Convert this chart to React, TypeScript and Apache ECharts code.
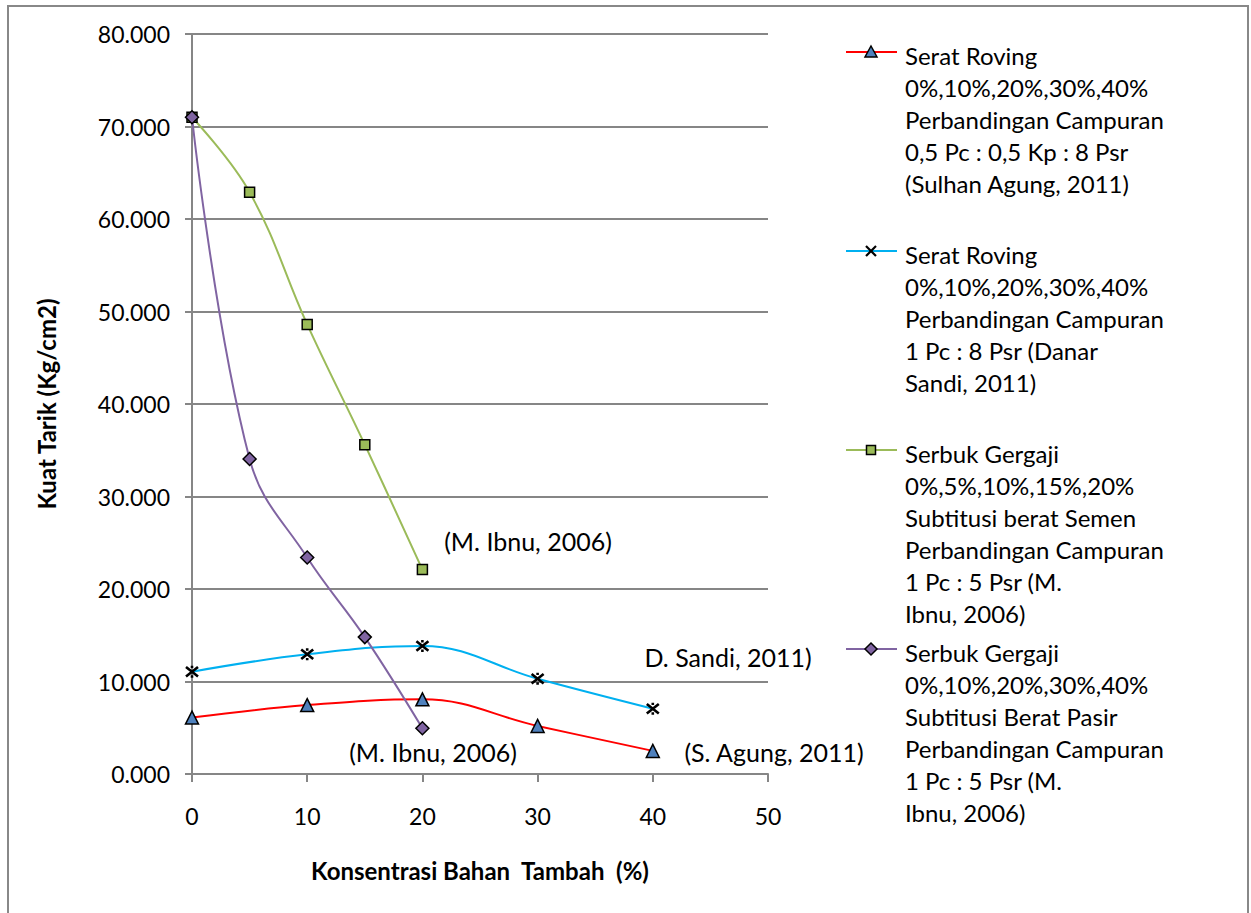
import React, { useEffect, useRef } from "react";
import * as echarts from "echarts";

const xRoving = [0, 10, 20, 30, 40];
const xSerbuk = [0, 5, 10, 15, 20];
const seratRovingAgung = [6.1, 7.45, 8.07, 5.2, 2.5];
const seratRovingSandi = [11.06, 12.94, 13.84, 10.3, 7.06];
const serbukSemen = [71.0, 62.9, 48.6, 35.6, 22.1];
const serbukPasir = [71.0, 34.05, 23.4, 14.8, 4.94];

const yTicks = [0, 10, 20, 30, 40, 50, 60, 70, 80];
const xTicks = [0, 10, 20, 30, 40, 50];

const legendTexts = [
  "Serat Roving\n0%,10%,20%,30%,40%\nPerbandingan Campuran\n0,5 Pc : 0,5 Kp : 8 Psr\n(Sulhan Agung, 2011)",
  "Serat Roving\n0%,10%,20%,30%,40%\nPerbandingan Campuran\n1 Pc : 8 Psr (Danar\nSandi, 2011)",
  "Serbuk Gergaji\n0%,5%,10%,15%,20%\nSubtitusi berat Semen\nPerbandingan Campuran\n1 Pc : 5 Psr (M.\nIbnu, 2006)",
  "Serbuk Gergaji\n0%,10%,20%,30%,40%\nSubtitusi Berat Pasir\nPerbandingan Campuran\n1 Pc : 5 Psr (M.\nIbnu, 2006)",
];

const annotations = [
  { text: "(M. Ibnu, 2006)", x: 528, y: 541 },
  { text: "D. Sandi, 2011)", x: 728, y: 657 },
  { text: "(M. Ibnu, 2006)", x: 433, y: 752 },
  { text: "(S. Agung, 2011)", x: 774, y: 752 },
];

const FONT = "Lato, 'Open Sans', sans-serif";
const GRAY = "#868686";

const toPairs = (xs: number[], ys: number[]) => xs.map((x, i) => [x, ys[i]]);

export default function App() {
  const ref = useRef<HTMLDivElement>(null);
  useEffect(() => {
    if (!ref.current) return;
    const chart = echarts.init(ref.current, undefined, { renderer: "svg" });

    const legendY = [52, 251, 450, 649];
    const legendGraphics: any[] = [];
    const lineColors = ["#FF0000", "#00B0F0", "#9BBB59", "#8064A2"];
    legendY.forEach((y, i) => {
      legendGraphics.push({
        type: "line",
        shape: { x1: 846, y1: y, x2: 897, y2: y },
        style: { stroke: lineColors[i], lineWidth: 2 },
      });
      const cx = 871;
      if (i === 0) {
        legendGraphics.push({
          type: "polygon",
          shape: { points: [[cx, y - 6], [cx + 6, y + 5], [cx - 6, y + 5]] },
          style: { fill: "#4F81BD", stroke: "#000", lineWidth: 1.5 },
        });
      } else if (i === 1) {
        legendGraphics.push({ type: "line", shape: { x1: cx - 5, y1: y - 5, x2: cx + 5, y2: y + 5 }, style: { stroke: "#000", lineWidth: 2.2 } });
        legendGraphics.push({ type: "line", shape: { x1: cx + 5, y1: y - 5, x2: cx - 5, y2: y + 5 }, style: { stroke: "#000", lineWidth: 2.2 } });
      } else if (i === 2) {
        legendGraphics.push({
          type: "rect",
          shape: { x: cx - 4.5, y: y - 4.5, width: 9, height: 9 },
          style: { fill: "#9BBB59", stroke: "#000", lineWidth: 1.5 },
        });
      } else {
        legendGraphics.push({
          type: "polygon",
          shape: { points: [[cx, y - 6], [cx + 6, y], [cx, y + 6], [cx - 6, y]] },
          style: { fill: "#8064A2", stroke: "#000", lineWidth: 1.5 },
        });
      }
      legendGraphics.push({
        type: "text",
        x: 905,
        y: y - 13,
        style: {
          text: legendTexts[i],
          font: `24px ${FONT}`,
          fill: "#000",
          lineHeight: 32,
          verticalAlign: "top",
          align: "left",
        },
      });
    });

    const annGraphics = annotations.map((a) => ({
      type: "text",
      x: a.x,
      y: a.y,
      style: {
        text: a.text,
        font: `25px ${FONT}`,
        fill: "#000",
        align: "center",
        verticalAlign: "middle",
      },
    }));

    const option: any = {
      animation: false,
      backgroundColor: "#fff",
      grid: { left: 192, right: 483, top: 34, bottom: 139, containLabel: false },
      xAxis: {
        type: "value",
        min: xTicks[0],
        max: xTicks[xTicks.length - 1],
        interval: 10,
        name: "Konsentrasi Bahan  Tambah  (%)",
        nameLocation: "middle",
        nameGap: 84,
        nameTextStyle: { fontFamily: FONT, fontSize: 24, fontWeight: "bold", color: "#000" },
        axisLine: { show: true, onZero: false, lineStyle: { color: GRAY, width: 2 } },
        axisTick: { show: true, length: 8, lineStyle: { color: GRAY, width: 2 } },
        axisLabel: { fontFamily: FONT, fontSize: 23, color: "#000", margin: 30 },
        splitLine: { show: false },
      },
      yAxis: {
        type: "value",
        min: yTicks[0],
        max: yTicks[yTicks.length - 1],
        interval: 10,
        name: "Kuat Tarik (Kg/cm2)",
        nameLocation: "middle",
        nameGap: 134,
        nameTextStyle: { fontFamily: FONT, fontSize: 24, fontWeight: "bold", color: "#000" },
        axisLine: { show: true, lineStyle: { color: GRAY, width: 2 } },
        axisTick: { show: true, length: 7, lineStyle: { color: GRAY, width: 2 } },
        axisLabel: {
          fontFamily: FONT,
          fontSize: 23,
          color: "#000",
          margin: 22,
          formatter: (v: number) => v.toFixed(3),
        },
        splitLine: { show: true, lineStyle: { color: GRAY, width: 2 } },
      },
      series: [
        {
          type: "line",
          name: "Serat Roving (Sulhan Agung, 2011)",
          data: toPairs(xRoving, seratRovingAgung),
          smooth: 0.4,
          symbol: "triangle",
          symbolSize: 13,
          lineStyle: { color: "#FF0000", width: 2 },
          itemStyle: { color: "#4F81BD", borderColor: "#000", borderWidth: 1.5 },
          z: 3,
        },
        {
          type: "line",
          name: "Serat Roving (Danar Sandi, 2011)",
          data: toPairs(xRoving, seratRovingSandi),
          smooth: 0.4,
          symbol: "path://M1,1L9,9M9,1L1,9M5,0L5,2M5,8L5,10",
          symbolSize: 12,
          lineStyle: { color: "#00B0F0", width: 2 },
          itemStyle: { color: "none", borderColor: "#000", borderWidth: 2.6 },
          z: 3,
        },
        {
          type: "line",
          name: "Serbuk Gergaji Semen (M. Ibnu, 2006)",
          data: toPairs(xSerbuk, serbukSemen),
          smooth: 0.4,
          symbol: "rect",
          symbolSize: 10,
          lineStyle: { color: "#9BBB59", width: 2 },
          itemStyle: { color: "#9BBB59", borderColor: "#000", borderWidth: 1.5 },
          z: 3,
        },
        {
          type: "line",
          name: "Serbuk Gergaji Pasir (M. Ibnu, 2006)",
          data: toPairs(xSerbuk, serbukPasir),
          smooth: 0.4,
          symbol: "diamond",
          symbolSize: 13,
          lineStyle: { color: "#8064A2", width: 2 },
          itemStyle: { color: "#8064A2", borderColor: "#000", borderWidth: 1.5 },
          z: 4,
        },
      ],
      graphic: [
        {
          type: "rect",
          shape: { x: 8, y: 6, width: 1240, height: 930 },
          style: { fill: "none", stroke: "#888", lineWidth: 2 },
          silent: true,
          z: 0,
        },
        ...legendGraphics,
        ...annGraphics,
      ],
    };
    chart.setOption(option);
    return () => chart.dispose();
  }, []);
  return (
    <div
      ref={ref}
      style={{ position: "fixed", left: 0, top: 0, width: 1251, height: 913, background: "#fff" }}
    />
  );
}
